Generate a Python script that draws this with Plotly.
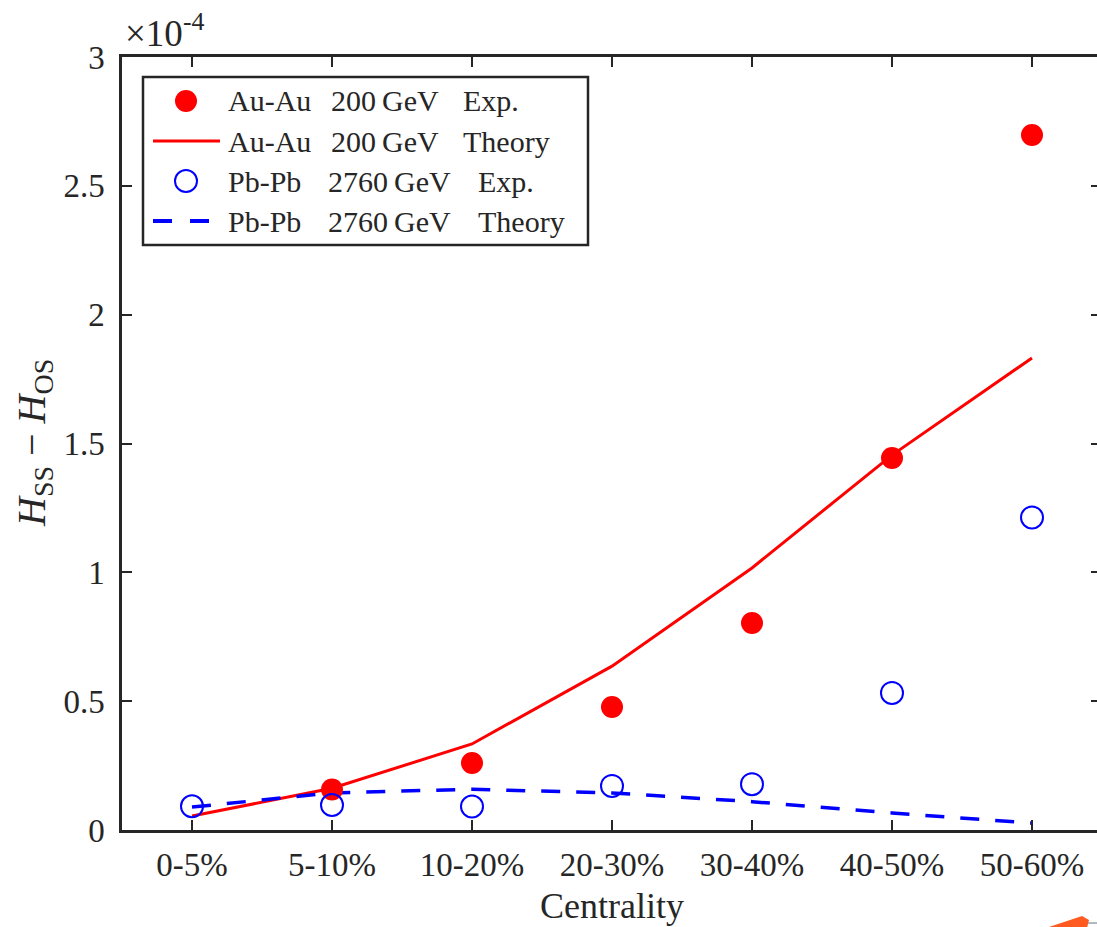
import plotly.graph_objects as go

# Centrality classes and measured / computed charge-dependent correlator (units of 1e-4)
centrality = ["0-5%", "5-10%", "10-20%", "20-30%", "30-40%", "40-50%", "50-60%"]
auau_exp = [None, 0.157, 0.26, 0.477, 0.803, 1.444, 2.697]
auau_theory = [0.054, 0.162, 0.334, 0.636, 1.017, 1.455, 1.832]
pbpb_exp = [0.092, 0.097, 0.091, 0.171, 0.178, 0.532, 1.213]
pbpb_theory = [0.089, 0.144, 0.158, 0.144, 0.110, 0.066, 0.027]

y_ticks = [0, 0.5, 1, 1.5, 2, 2.5, 3]
y_tick_text = ["0", "0.5", "1", "1.5", "2", "2.5", "3"]

legend_rows = [
    ("Au-Au", "200\u2009GeV", "Exp."),
    ("Au-Au", "200\u2009GeV", "Theory"),
    ("Pb-Pb", "2760\u2009GeV", "Exp."),
    ("Pb-Pb", "2760\u2009GeV", "Theory"),
]

RED = "#ff0000"
BLUE = "#0000ff"
INK = "#262626"
SERIF = "Liberation Serif, Times New Roman, serif"

W, H = 1097, 927
ML, MT, MB = 122, 57, 97
PW = W - ML
PH = H - MT - MB
STEP = 140.0  # pixels per category


def px(x):
    return (x - ML) / PW


def py(y):
    return (H - MB - y) / PH


fig = go.Figure()

fig.add_trace(go.Scatter(
    x=centrality, y=auau_theory, mode="lines",
    line=dict(color=RED, width=3), showlegend=False,
))
fig.add_trace(go.Scatter(
    x=centrality, y=pbpb_theory, mode="lines",
    line=dict(color=BLUE, width=3.5, dash="19px,16px"), showlegend=False,
))
fig.add_trace(go.Scatter(
    x=centrality, y=auau_exp, mode="markers",
    marker=dict(color=RED, size=22, line=dict(width=0)), showlegend=False,
))
fig.add_trace(go.Scatter(
    x=centrality, y=pbpb_exp, mode="markers",
    marker=dict(color="rgba(0,0,0,0)", size=22, line=dict(color=BLUE, width=2)),
    showlegend=False,
))
# carrier for the right-hand tick marks
fig.add_trace(go.Scatter(x=[], y=[], yaxis="y2", showlegend=False, hoverinfo="skip"))

shapes = []
annotations = []

# legend frame
shapes.append(dict(type="rect", xref="paper", yref="paper",
                   x0=px(143), x1=px(588), y0=py(245), y1=py(77),
                   line=dict(color=INK, width=2.5), fillcolor="white", layer="above"))
row_y = [101, 141, 181, 221]
r = 11
# legend symbols
shapes.append(dict(type="circle", xref="paper", yref="paper",
                   x0=px(186 - r), x1=px(186 + r), y0=py(row_y[0] + r), y1=py(row_y[0] - r),
                   line=dict(width=0), fillcolor=RED, layer="above"))
shapes.append(dict(type="line", xref="paper", yref="paper",
                   x0=px(153), x1=px(220), y0=py(row_y[1]), y1=py(row_y[1]),
                   line=dict(color=RED, width=3), layer="above"))
shapes.append(dict(type="circle", xref="paper", yref="paper",
                   x0=px(186 - r), x1=px(186 + r), y0=py(row_y[2] + r), y1=py(row_y[2] - r),
                   line=dict(color=BLUE, width=2), fillcolor="rgba(0,0,0,0)", layer="above"))
for a, b in [(153, 172), (190, 209)]:
    shapes.append(dict(type="line", xref="paper", yref="paper",
                       x0=px(a), x1=px(b), y0=py(row_y[3]), y1=py(row_y[3]),
                       line=dict(color=BLUE, width=4), layer="above"))

# legend labels, one column per word group
col_x = [[226, 329, 461], [226, 329, 461], [226, 326, 476], [226, 326, 476]]
for (words, cy, cols) in zip(legend_rows, row_y, col_x):
    for w, cx in zip(words, cols):
        annotations.append(dict(text=w, xref="paper", yref="paper",
                                x=px(cx), y=py(cy), xanchor="left", yanchor="middle",
                                showarrow=False, font=dict(family=SERIF, size=30, color=INK)))

# exponent label
annotations.append(dict(text="\u00d710<sup>-4</sup>", xref="paper", yref="paper",
                        x=px(123), y=py(56), xanchor="left", yanchor="bottom",
                        showarrow=False, font=dict(family=SERIF, size=37, color=INK)))
# y title
annotations.append(dict(text="<i>H</i><sub>SS</sub> \u2212 <i>H</i><sub>OS</sub>",
                        xref="paper", yref="paper", x=px(34), y=py(443),
                        xanchor="center", yanchor="middle", textangle=-90,
                        showarrow=False, font=dict(family=SERIF, size=40, color=INK)))
# x title
annotations.append(dict(text="Centrality", xref="paper", yref="paper",
                        x=px(612), y=py(906), xanchor="center", yanchor="middle",
                        showarrow=False, font=dict(family=SERIF, size=36, color=INK)))

# small orange mark in the lower right corner
shapes.append(dict(type="path", xref="paper", yref="paper",
                   path="M {:.5f} {:.5f} L {:.5f} {:.5f} L {:.5f} {:.5f} L {:.5f} {:.5f} Z".format(
                       px(1046), py(928), px(1082), py(916), px(1089), py(920), px(1087), py(928)),
                   fillcolor="#ff5a1f", line=dict(width=0), layer="above"))
shapes.append(dict(type="line", xref="paper", yref="paper",
                   x0=px(1088), x1=px(1097), y0=py(923), y1=py(923),
                   line=dict(color="#9aa0a8", width=1.5), layer="above"))

fig.update_layout(
    width=W, height=H,
    margin=dict(l=ML, r=0, t=MT, b=MB, pad=0),
    paper_bgcolor="white", plot_bgcolor="white",
    font=dict(family=SERIF, color=INK),
    showlegend=False,
    shapes=shapes,
    annotations=annotations,
    xaxis=dict(
        type="category", categoryorder="array", categoryarray=centrality,
        range=[-0.5, -0.5 + PW / STEP],
        showgrid=False, zeroline=False,
        showline=True, linecolor=INK, linewidth=2.5, mirror="ticks",
        ticks="inside", ticklen=10, tickwidth=2, tickcolor=INK,
        tickfont=dict(family=SERIF, size=33, color=INK),
        ticklabelstandoff=4,
    ),
    yaxis=dict(
        range=[0, 3], tickvals=y_ticks, ticktext=y_tick_text,
        showgrid=False, zeroline=False,
        showline=True, linecolor=INK, linewidth=2.5, mirror=False,
        ticks="inside", ticklen=10, tickwidth=2, tickcolor=INK,
        tickfont=dict(family=SERIF, size=33, color=INK),
        ticklabelstandoff=8,
    ),
    yaxis2=dict(
        overlaying="y", side="right", range=[0, 3], tickvals=y_ticks,
        showgrid=False, zeroline=False, showline=False, showticklabels=False,
        ticks="inside", ticklen=6, tickwidth=2, tickcolor=INK,
    ),
)

fig.write_html("out.html")
